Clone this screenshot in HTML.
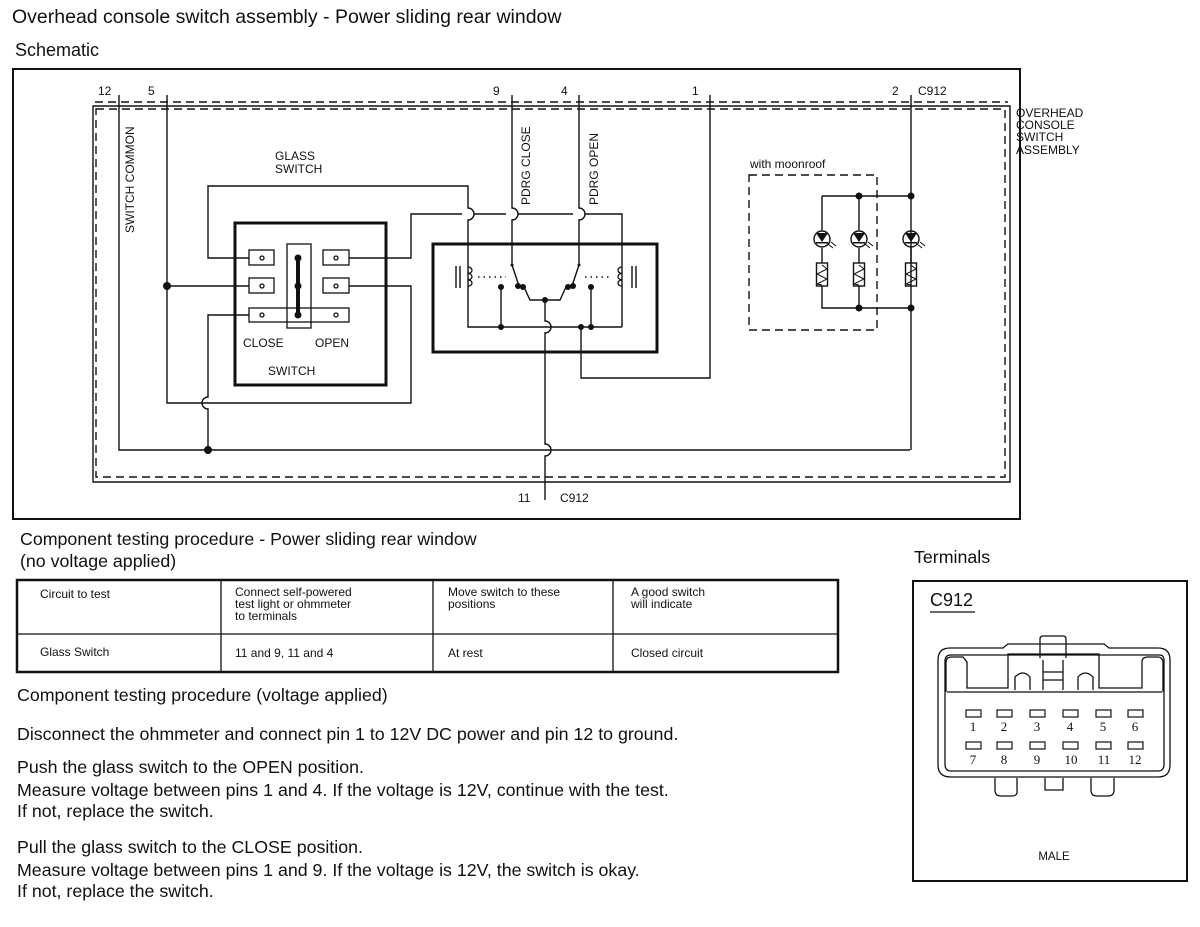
<!DOCTYPE html>
<html><head><meta charset="utf-8"><style>
body{margin:0;background:#fff;}
svg{display:block;font-family:"Liberation Sans",sans-serif;}
</style></head><body>
<svg width="1200" height="927" viewBox="0 0 1200 927" xmlns="http://www.w3.org/2000/svg">
<rect width="1200" height="927" fill="#fff"/>
<g fill="#111" font-size="19.5">
<text x="12" y="23">Overhead console switch assembly - Power sliding rear window</text>
<text x="15" y="56" font-size="18">Schematic</text>
</g>
<rect x="13" y="69" width="1007" height="450" fill="none" stroke="#111" stroke-width="2"/>
<g stroke="#111" fill="none" stroke-width="1.4">
<path d="M93 106 H1010 V482 H93 Z"/>
<path d="M96 109 H1005 V477 H96 Z" stroke-dasharray="8,5"/>
<path d="M95 102 H1008" stroke-dasharray="8,5"/>
<path d="M119 95 V450 H910"/>
<path d="M167 95 V403 H411 V286 H349"/>
<path d="M167 286 H249"/>
<path d="M208 450 V409 a6 6 0 0 1 0 -12 V315 H249"/>
<path d="M249 258 H208 V186 H468 V208 a6 6 0 0 1 0 12 V327 H622"/>
<path d="M349 258 H411 V214 H462 M474 214 H506 M518 214 H573 M585 214 H622 V327"/>
<path d="M512 95 V208 a6 6 0 0 1 0 12 V265 L519 286"/>
<path d="M579 95 V208 a6 6 0 0 1 0 12 V265 L572 286"/>
<path d="M524 287 L530 300 H560 L566 287"/>
<path d="M545 300 V321 a6 6 0 0 1 0 12 V444 a6 6 0 0 1 0 12 V500"/>
<path d="M501 287 V327 M591 287 V327"/>
<path d="M581 327 V378 H710 V95"/>
<path d="M911 95 V450"/>
<path d="M468 267 a4 3.2 0 0 1 0 6.4 a4 3.2 0 0 1 0 6.4 a4 3.2 0 0 1 0 6.4" stroke-width="1.3"/>
<path d="M622 267 a4 3.2 0 0 0 0 6.4 a4 3.2 0 0 0 0 6.4 a4 3.2 0 0 0 0 6.4" stroke-width="1.3"/>
<path d="M456 266 V288 M460 266 V288 M632 266 V288 M636 266 V288"/>
<path d="M478 277 H506 M585 277 H612" stroke-dasharray="1.5,4"/>
<path d="M749 175 H877 V330 H749 Z" stroke-dasharray="8,5"/>
<path d="M822 196 H911 M822 196 V230 M859 196 V230 M822 248 V263 M859 248 V263 M911 248 V263 M822 286 V308 H911 M859 286 V308"/>
<g>
<circle cx="822" cy="239" r="8"/><circle cx="859" cy="239" r="8"/><circle cx="911" cy="239" r="8"/>
<rect x="816.5" y="263" width="11" height="23"/><rect x="853.5" y="263" width="11" height="23"/><rect x="905.5" y="263" width="11" height="23"/>
<path d="M822 265 l5 4 l-10 5 l10 5 l-10 5 l5 1 M859 265 l5 4 l-10 5 l10 5 l-10 5 l5 1 M911 265 l5 4 l-10 5 l10 5 l-10 5 l5 1" stroke-width="1"/>
<path d="M828 244 l5 4 M831 242 l5 4 M865 244 l5 4 M868 242 l5 4 M917 244 l5 4 M920 242 l5 4" stroke-width="1"/>
</g>
</g>
<g fill="#111">
<path d="M816 233 h12 l-6 9 z M853 233 h12 l-6 9 z M905 233 h12 l-6 9 z"/>
<rect x="816" y="242" width="12" height="1.5"/><rect x="853" y="242" width="12" height="1.5"/><rect x="905" y="242" width="12" height="1.5"/>
<circle cx="167" cy="286" r="4"/><circle cx="208" cy="450" r="4"/>
<circle cx="518" cy="286" r="3"/><circle cx="523" cy="287" r="3"/><circle cx="568" cy="287" r="3"/><circle cx="573" cy="286" r="3"/>
<circle cx="545" cy="300" r="3"/><circle cx="501" cy="287" r="3"/><circle cx="591" cy="287" r="3"/>
<circle cx="501" cy="327" r="3"/><circle cx="581" cy="327" r="3"/><circle cx="591" cy="327" r="3"/>
<circle cx="512" cy="265" r="1.5"/><circle cx="579" cy="265" r="1.5"/>
<circle cx="859" cy="196" r="3.5"/><circle cx="911" cy="196" r="3.5"/><circle cx="859" cy="308" r="3.5"/><circle cx="911" cy="308" r="3.5"/>
</g>
<rect x="235" y="223" width="151" height="162" fill="none" stroke="#111" stroke-width="3"/>
<g stroke="#111" fill="#fff" stroke-width="1.3">
<rect x="249" y="250" width="25" height="15"/><rect x="249" y="278" width="25" height="15"/>
<rect x="323" y="250" width="26" height="15"/><rect x="323" y="278" width="26" height="15"/>
<rect x="249" y="308" width="100" height="14"/>
<rect x="287" y="244" width="24" height="84" fill="none"/>
<circle cx="262" cy="258" r="2"/><circle cx="262" cy="286" r="2"/><circle cx="262" cy="315" r="2"/>
<circle cx="336" cy="258" r="2"/><circle cx="336" cy="286" r="2"/><circle cx="336" cy="315" r="2"/>
</g>
<path d="M298 258 V315" stroke="#111" stroke-width="4"/>
<g fill="#111"><circle cx="298" cy="258" r="3.5"/><circle cx="298" cy="286" r="3.5"/><circle cx="298" cy="315" r="3.5"/></g>
<rect x="433" y="244" width="224" height="108" fill="none" stroke="#111" stroke-width="3"/>
<g fill="#111" font-size="12">
<text x="98" y="95">12</text><text x="148" y="95">5</text><text x="493" y="95">9</text><text x="561" y="95">4</text>
<text x="692" y="95">1</text><text x="892" y="95">2</text><text x="918" y="95">C912</text>
<text x="518" y="502">11</text><text x="560" y="502">C912</text>
<text x="275" y="160">GLASS</text><text x="275" y="173">SWITCH</text>
<text x="243" y="347">CLOSE</text><text x="315" y="347">OPEN</text><text x="268" y="375">SWITCH</text>
<text x="750" y="168">with moonroof</text>
<text x="1016" y="117">OVERHEAD</text><text x="1016" y="129">CONSOLE</text><text x="1016" y="141">SWITCH</text><text x="1016" y="154">ASSEMBLY</text>
<text transform="translate(134,233) rotate(-90)">SWITCH COMMON</text>
<text transform="translate(530,205) rotate(-90)">PDRG CLOSE</text>
<text transform="translate(598,205) rotate(-90)">PDRG OPEN</text>
</g>
<g fill="#111" font-size="17.8">
<text x="20" y="545">Component testing procedure - Power sliding rear window</text>
<text x="20" y="567">(no voltage applied)</text>
<text x="17" y="701">Component testing procedure (voltage applied)</text>
<text x="17" y="740">Disconnect the ohmmeter and connect pin 1 to 12V DC power and pin 12 to ground.</text>
<text x="17" y="773">Push the glass switch to the OPEN position.</text>
<text x="17" y="796">Measure voltage between pins 1 and 4. If the voltage is 12V, continue with the test.</text>
<text x="17" y="817">If not, replace the switch.</text>
<text x="17" y="853">Pull the glass switch to the CLOSE position.</text>
<text x="17" y="876">Measure voltage between pins 1 and 9. If the voltage is 12V, the switch is okay.</text>
<text x="17" y="897">If not, replace the switch.</text>
<text x="914" y="563">Terminals</text>
</g>
<g stroke="#111" fill="none">
<rect x="17" y="580" width="821" height="92" stroke-width="2.5"/>
<path d="M17 634 H838 M221 580 V672 M433 580 V672 M613 580 V672" stroke-width="1.3"/>
</g>
<g fill="#111" font-size="12">
<text x="40" y="598">Circuit to test</text>
<text x="235" y="596">Connect self-powered</text><text x="235" y="608">test light or ohmmeter</text><text x="235" y="620">to terminals</text>
<text x="448" y="596">Move switch to these</text><text x="448" y="608">positions</text>
<text x="631" y="596">A good switch</text><text x="631" y="608">will indicate</text>
<text x="40" y="656">Glass Switch</text><text x="235" y="657">11 and 9, 11 and 4</text>
<text x="448" y="657">At rest</text><text x="631" y="657">Closed circuit</text>
</g>
<rect x="913" y="581" width="274" height="300" fill="none" stroke="#111" stroke-width="2"/>
<text x="930" y="606" font-size="18" fill="#111">C912</text>
<path d="M930 612 H975" stroke="#111" stroke-width="1.3"/>
<g stroke="#111" fill="none" stroke-width="1.3">
<path d="M950 648 H1003 L1008 644 H1104 L1109 648 H1158 Q1170 648 1170 660 V765 Q1170 777 1158 777 H951 Q938 777 938 765 V660 Q938 648 950 648 Z"/>
<path d="M945 764 V661 Q945 655 951 655 H1160 Q1164 655 1164 661 V764 Q1164 771 1158 771 H951 Q945 771 945 764 Z"/>
<path d="M946 692 V662 Q946 657 952 657 H963 L967 662 V688 H1008 V654 H1099 V688 H1142 V662 Q1142 657 1148 657 H1158 Q1162 657 1163 662 V692"/>
<path d="M1015 690 V677 Q1023 669 1030 677 V690 M1078 690 V677 Q1085 669 1093 677 V690"/>
<path d="M947 692 H1162"/>
<path d="M1040 658 V639 Q1040 636 1043 636 H1063 Q1066 636 1066 639 V658 M1043 660 V690 M1063 660 V690 M1043 672 H1063 M1043 680 H1063"/>
<path d="M995 778 V790 Q995 796 1001 796 H1012 Q1018 796 1017 790 V778 M1045 778 V790 H1063 V778 M1091 778 V790 Q1091 796 1097 796 H1108 Q1114 796 1114 790 V778"/>
</g>
<g stroke="#111" fill="#fff" stroke-width="1.2">
<rect x="966" y="710" width="15" height="7"/><rect x="997" y="710" width="15" height="7"/><rect x="1030" y="710" width="15" height="7"/><rect x="1063" y="710" width="15" height="7"/><rect x="1096" y="710" width="15" height="7"/><rect x="1128" y="710" width="15" height="7"/>
<rect x="966" y="742" width="15" height="7"/><rect x="997" y="742" width="15" height="7"/><rect x="1030" y="742" width="15" height="7"/><rect x="1063" y="742" width="15" height="7"/><rect x="1096" y="742" width="15" height="7"/><rect x="1128" y="742" width="15" height="7"/>
</g>
<g fill="#111" font-size="13" font-family="Liberation Serif, serif" text-anchor="middle">
<text x="973" y="731">1</text><text x="1004" y="731">2</text><text x="1037" y="731">3</text><text x="1070" y="731">4</text><text x="1103" y="731">5</text><text x="1135" y="731">6</text>
<text x="973" y="764">7</text><text x="1004" y="764">8</text><text x="1037" y="764">9</text><text x="1071" y="764">10</text><text x="1104" y="764">11</text><text x="1135" y="764">12</text>
</g>
<text x="1054" y="860" font-size="11.5" fill="#111" text-anchor="middle">MALE</text>
</svg>
</body></html>
